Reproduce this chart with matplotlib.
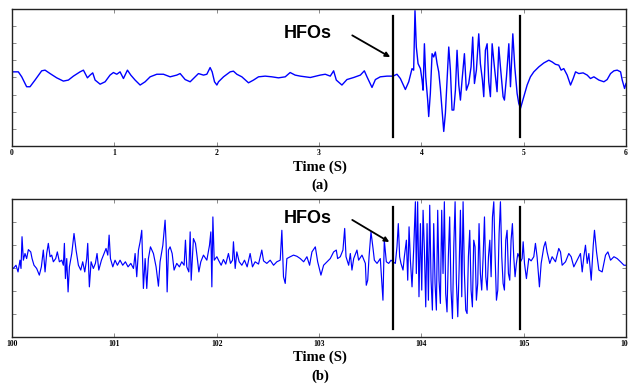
import matplotlib
matplotlib.use("Agg")
import matplotlib.pyplot as plt

# ---------------- data ----------------
# Panel (a): time (s) and amplitude (one tick = 10 units)
time_a = [
    0.000, 0.062, 0.095, 0.143, 0.176, 0.225, 0.290, 0.323, 0.372, 0.437,
    0.502, 0.551, 0.600, 0.665, 0.698, 0.737, 0.763, 0.789, 0.812, 0.861,
    0.910, 0.958, 0.991, 1.024, 1.056, 1.089, 1.128, 1.161, 1.203, 1.252,
    1.301, 1.350, 1.415, 1.480, 1.545, 1.610, 1.643, 1.692, 1.741, 1.773,
    1.822, 1.871, 1.904, 1.936, 1.956, 1.979, 2.002, 2.018, 2.067, 2.132,
    2.164, 2.197, 2.246, 2.311, 2.360, 2.409, 2.474, 2.539, 2.604, 2.670,
    2.718, 2.767, 2.817, 2.915, 3.012, 3.061, 3.110, 3.143, 3.169, 3.224,
    3.273, 3.339, 3.404, 3.443, 3.469, 3.518, 3.551, 3.599, 3.665, 3.723,
    3.762, 3.795, 3.844, 3.877, 3.909, 3.925, 3.938, 3.951, 3.968, 3.991,
    4.007, 4.017, 4.030, 4.043, 4.062, 4.072, 4.088, 4.105, 4.121, 4.137,
    4.154, 4.170, 4.186, 4.203, 4.219, 4.235, 4.251, 4.268, 4.284, 4.300,
    4.317, 4.333, 4.349, 4.366, 4.382, 4.398, 4.421, 4.440, 4.463, 4.486,
    4.502, 4.519, 4.538, 4.561, 4.577, 4.597, 4.610, 4.626, 4.643, 4.659,
    4.675, 4.692, 4.714, 4.740, 4.757, 4.773, 4.799, 4.812, 4.832, 4.855,
    4.871, 4.894, 4.913, 4.936, 4.952, 4.969, 5.001, 5.034, 5.066, 5.099,
    5.148, 5.197, 5.246, 5.278, 5.311, 5.343, 5.366, 5.392, 5.425, 5.458,
    5.484, 5.507, 5.539, 5.581, 5.621, 5.653, 5.686, 5.735, 5.784, 5.816,
    5.849, 5.882, 5.914, 5.947, 5.963, 5.986, 6.000,
]
eeg_a = [
    3.3, 3.3, 0.4, -5.4, -5.4, -1.5, 3.9, 4.3, 2.3, -0.2,
    -2.1, -1.5, 0.8, 3.3, 4.3, -0.2, 1.4, 2.7, -1.5, -3.9,
    -2.5, 1.4, 2.9, 1.9, 3.3, -0.6, 4.3, 1.4, -1.5, -4.4,
    -2.5, 0.4, 1.9, 1.9, 0.4, 1.4, 2.3, -1.2, -2.5, -0.6,
    2.3, 1.4, 1.9, 5.8, 3.3, -2.5, -4.4, -2.5, 0.4, 3.3,
    3.7, 1.9, 0.4, -3.1, -1.5, 0.4, 0.8, 0.4, -0.2, 0.4,
    2.9, 1.4, 0.8, 0.0, 1.4, 1.9, 0.8, 3.9, -1.5, -4.4,
    -1.2, 0.0, 1.4, 3.9, 0.4, -5.8, -1.2, 0.4, 0.8, 0.8,
    1.9, -0.6, -7.0, -2.5, 5.2, 4.3, 39.0, 17.8, 8.1, 5.2,
    -1.5, -7.4, 19.7, 0.4, -13.2, -22.8, -9.3, 13.9, 12.0, 14.9,
    8.1, 3.3, -6.4, -19.0, -31.5, -20.9, -2.5, 17.8, 4.3, -19.0,
    -19.0, -7.4, 15.9, -4.4, -13.2, -1.5, 13.9, -7.4, -3.5, 6.2,
    23.6, -3.5, 4.3, 25.5, 8.1, -1.5, -11.2, 15.9, 19.7, -2.5,
    -11.2, 19.7, 6.2, -8.3, 17.8, 6.2, -11.2, -13.2, 0.4, 19.7,
    -5.4, 25.5, 6.2, -9.3, -15.1, -18.0, -11.2, -4.4, 0.4, 3.3,
    6.2, 8.5, 10.1, 9.1, 7.7, 7.2, 4.3, 5.2, 1.4, -4.4,
    -0.6, 3.3, 2.3, 2.7, 1.4, -0.6, 0.4, -1.5, -2.5, -1.2,
    2.3, 3.9, 4.3, 3.3, -1.5, -6.4, -3.5,
]

# Panel (b)
time_b = [
    100.000, 100.013, 100.039, 100.059, 100.078, 100.088, 100.098, 100.111, 100.127, 100.143,
    100.160, 100.183, 100.196, 100.215, 100.241, 100.267, 100.287, 100.306, 100.323, 100.339,
    100.355, 100.372, 100.388, 100.404, 100.427, 100.443, 100.463, 100.486, 100.502, 100.512,
    100.522, 100.535, 100.548, 100.561, 100.584, 100.606, 100.626, 100.649, 100.672, 100.691,
    100.711, 100.730, 100.740, 100.756, 100.773, 100.795, 100.815, 100.831, 100.848, 100.874,
    100.900, 100.919, 100.936, 100.949, 100.962, 100.985, 101.007, 101.030, 101.056, 101.082,
    101.108, 101.134, 101.161, 101.187, 101.203, 101.219, 101.236, 101.252, 101.268, 101.284,
    101.301, 101.317, 101.333, 101.353, 101.382, 101.408, 101.431, 101.447, 101.474, 101.496,
    101.506, 101.516, 101.529, 101.545, 101.565, 101.584, 101.610, 101.636, 101.659, 101.682,
    101.695, 101.708, 101.728, 101.741, 101.751, 101.773, 101.793, 101.809, 101.826, 101.845,
    101.871, 101.904, 101.930, 101.943, 101.953, 101.963, 101.976, 102.002, 102.018, 102.044,
    102.066, 102.089, 102.115, 102.135, 102.155, 102.164, 102.181, 102.197, 102.220, 102.246,
    102.272, 102.298, 102.327, 102.350, 102.376, 102.409, 102.441, 102.458, 102.490, 102.523,
    102.556, 102.588, 102.621, 102.637, 102.653, 102.670, 102.686, 102.719, 102.751, 102.784,
    102.817, 102.850, 102.882, 102.908, 102.931, 102.964, 102.987, 103.019, 103.045, 103.078,
    103.110, 103.143, 103.169, 103.182, 103.208, 103.234, 103.251, 103.264, 103.290, 103.306,
    103.322, 103.339, 103.371, 103.387, 103.420, 103.453, 103.462, 103.476, 103.489, 103.508,
    103.528, 103.541, 103.567, 103.599, 103.625, 103.638, 103.658, 103.681, 103.704, 103.723,
    103.746, 103.762, 103.775, 103.788, 103.801, 103.821, 103.834, 103.854, 103.867, 103.880,
    103.893, 103.909, 103.925, 103.942, 103.951, 103.964, 103.977, 103.991, 104.004, 104.017,
    104.030, 104.043, 104.056, 104.069, 104.082, 104.095, 104.108, 104.121, 104.134, 104.147,
    104.160, 104.173, 104.186, 104.199, 104.212, 104.225, 104.238, 104.251, 104.264, 104.277,
    104.290, 104.304, 104.317, 104.330, 104.343, 104.356, 104.369, 104.382, 104.395, 104.408,
    104.421, 104.434, 104.447, 104.460, 104.473, 104.486, 104.499, 104.512, 104.525, 104.538,
    104.551, 104.564, 104.577, 104.590, 104.604, 104.617, 104.630, 104.643, 104.656, 104.669,
    104.682, 104.695, 104.708, 104.721, 104.734, 104.747, 104.760, 104.773, 104.786, 104.799,
    104.812, 104.825, 104.838, 104.851, 104.864, 104.877, 104.890, 104.903, 104.916, 104.929,
    104.943, 104.956, 104.969, 104.985, 104.995, 105.008, 105.027, 105.050, 105.073, 105.099,
    105.115, 105.131, 105.154, 105.171, 105.197, 105.213, 105.229, 105.255, 105.278, 105.311,
    105.343, 105.360, 105.376, 105.409, 105.441, 105.464, 105.490, 105.523, 105.555, 105.572,
    105.588, 105.604, 105.621, 105.637, 105.660, 105.680, 105.692, 105.712, 105.735, 105.767,
    105.800, 105.823, 105.849, 105.882, 105.914, 105.947, 105.980, 106.000,
]
eeg_b = [
    0.5, -0.2, 1.2, -1.7, 3.4, -0.2, 13.6, 3.4, 6.3, 4.1,
    8.0, 7.0, 4.1, 1.2, -0.2, -3.1, 0.5, 7.8, -1.7, 6.3,
    10.7, 4.9, 5.6, 2.7, 4.1, 7.0, 2.7, 3.4, 1.2, 10.7,
    -4.6, 4.1, -10.4, 0.5, 6.3, 15.0, 7.8, 1.2, -0.9, 2.7,
    -1.7, 4.1, 10.7, -8.2, 2.7, -0.2, 2.0, 6.3, -0.9, 3.4,
    6.3, 8.5, 5.6, 14.3, 4.1, 0.5, 3.4, 1.2, 3.4, 1.2,
    2.7, 0.5, 2.0, -0.2, 6.3, -3.8, 7.8, 11.4, 16.4, -8.9,
    4.1, -8.9, 4.1, 9.2, 6.3, 0.5, -7.9, 2.7, 9.9, 20.8,
    10.7, -10.4, 7.8, 9.2, 6.3, -0.9, 2.0, 0.5, 2.7, 1.2,
    12.1, 0.5, -1.7, 15.7, -5.3, 12.8, 10.7, 4.9, -1.7, 2.7,
    5.6, 3.4, 9.9, 15.7, -8.2, 22.2, 3.4, 4.9, 3.4, 1.2,
    3.7, 1.7, 6.3, 2.0, 3.4, 11.4, -0.2, 7.0, 2.7, 1.2,
    3.4, 0.5, 6.3, 0.5, 2.7, 1.7, 7.8, 3.1, 2.0, 3.4,
    1.2, 2.7, 3.4, 16.4, -3.8, -6.7, 4.1, 4.9, 5.6, 5.1,
    4.1, 2.7, 4.9, 1.2, 7.0, 9.2, 2.7, -3.1, 1.2, 2.7,
    4.1, 7.0, 7.8, 4.1, 4.9, 7.8, 17.2, 4.9, 1.2, 6.3,
    -0.9, 4.1, 7.8, 3.4, 5.6, 2.0, -7.5, -5.3, 4.9, 15.7,
    8.5, 3.4, 2.0, 4.1, -14.0, 12.1, 2.7, 2.0, 3.4, 2.7,
    2.0, 9.2, 19.3, 4.9, 2.0, -0.9, 4.9, 12.1, -5.3, 17.9,
    3.4, -8.2, 7.8, 28.8, -2.4, 28.8, -12.5, 19.3, -9.6, 25.1,
    7.8, -16.9, 19.3, -14.0, 27.3, -5.3, -18.3, 19.3, -6.7, -18.3,
    25.1, -5.3, -15.4, 25.1, -2.4, 28.8, -11.1, -19.1, 4.9, 22.2,
    -9.6, -22.0, 9.2, 28.8, -6.7, -21.2, -0.9, 25.1, -12.5, 28.8,
    -2.4, -18.3, -19.8, 4.9, 16.4, -9.6, -16.9, 12.1, 9.2, -14.0,
    -6.7, 19.3, -2.4, -9.6, 4.9, 22.2, -3.8, -9.6, 4.9, 12.1,
    -3.8, 22.2, 28.8, 4.9, -14.0, -9.6, 15.0, 28.8, 4.9, -6.7,
    -9.6, 12.1, 16.4, -2.4, -5.3, 12.1, 19.3, 4.9, -3.8, 2.0,
    6.3, 4.9, 2.7, 4.1, 11.4, 2.0, -4.6, 4.1, 3.1, 4.9,
    10.7, 4.9, -8.2, 2.0, 9.2, 11.4, 7.0, 2.0, 4.9, 2.7,
    8.5, 7.0, 1.2, 2.7, 6.3, 4.9, 0.5, 3.4, 6.3, -1.7,
    4.9, 9.9, 2.0, 6.3, -5.3, 9.9, 16.4, 7.0, -0.9, -1.7,
    5.6, 7.0, 3.4, 4.9, 4.1, 2.7, 1.2, 1.2,
]

xticks_a = [0, 1, 2, 3, 4, 5, 6]
xticks_b = [100, 101, 102, 103, 104, 105, 106]
yticks_a = [-30, -20, -10, 0, 10, 20, 30]
yticks_b = [-20, -10, 0, 10, 20]
hfo_bounds_a = [3.723, 4.969]
hfo_bounds_b = [103.723, 104.969]

assert len(time_a) == len(eeg_a), (len(time_a), len(eeg_a))
assert len(time_b) == len(eeg_b), (len(time_b), len(eeg_b))

# ---------------- figure ----------------
W, H = 628, 389
fig = plt.figure(figsize=(W / 100, H / 100), dpi=100)

def box(l, t, r, b):
    return [l / W, 1 - b / H, (r - l) / W, (b - t) / H]

ax_a = fig.add_axes(box(12, 9, 626, 146))
ax_b = fig.add_axes(box(12, 199, 626, 337))

tick_font = dict(family="Liberation Serif", weight="bold", size=5.5)

def style(ax, xt, yt, xlim, ylim):
    ax.set_xlim(*xlim)
    ax.set_ylim(*ylim)
    ax.set_xticks(xt)
    ax.set_xticklabels([str(v) for v in xt], fontdict=tick_font)
    ax.set_yticks(yt)
    ax.set_yticklabels([])
    ax.tick_params(axis="both", direction="in", length=3, width=0.6,
                   color="#777777", top=True, right=True, pad=2)
    for s in ax.spines.values():
        s.set_linewidth(1.0)
        s.set_color("#222222")

ax_a.plot(time_a, eeg_a, color="#0000ff", lw=1.0)
ax_b.plot(time_b, eeg_b, color="#0000ff", lw=0.85)

style(ax_a, xticks_a, yticks_a, (0, 6), (-40, 40))
style(ax_b, xticks_b, yticks_b, (100, 106), (-30, 30))

for x in hfo_bounds_a:
    ax_a.plot([x, x], [-34.5, 35.7], color="black", lw=1.6)
for x in hfo_bounds_b:
    ax_b.plot([x, x], [-26.5, 26.5], color="black", lw=1.6)

hfo_font = dict(family="Liberation Sans", weight="bold", size=13)
ax_a.text(2.66, 25.8, "HFOs", ha="left", va="center", **hfo_font)
ax_a.annotate("", xy=(3.696, 11.9), xytext=(3.325, 24.6),
              arrowprops=dict(arrowstyle="-|>", color="black", lw=1.3,
                              mutation_scale=7, shrinkA=0, shrinkB=0))
ax_b.text(102.66, 21.7, "HFOs", ha="left", va="center", **hfo_font)
ax_b.annotate("", xy=(103.687, 11.3), xytext=(103.325, 20.9),
              arrowprops=dict(arrowstyle="-|>", color="black", lw=1.3,
                              mutation_scale=7, shrinkA=0, shrinkB=0))

lab_font = dict(family="Liberation Serif", weight="bold", size=10.5)
fig.text(320 / W, 1 - 167 / H, "Time (S)", ha="center", va="center", **lab_font)
fig.text(320 / W, 1 - 185.5 / H, "(a)", ha="center", va="center", **lab_font)
fig.text(320 / W, 1 - 357 / H, "Time (S)", ha="center", va="center", **lab_font)
fig.text(320 / W, 1 - 376 / H, "(b)", ha="center", va="center", **lab_font)

fig.savefig("out.png", dpi=100)
